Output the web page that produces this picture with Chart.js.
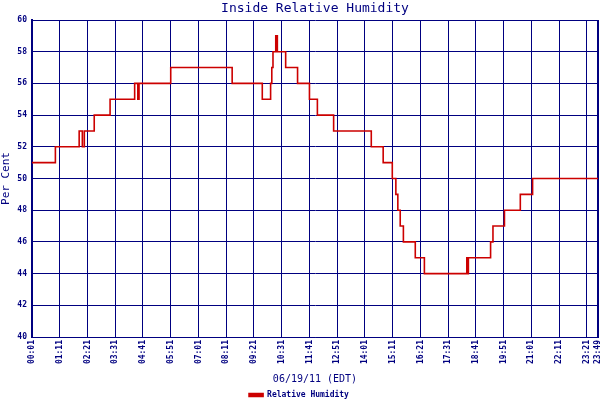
<!DOCTYPE html>
<html>
<head>
<meta charset="utf-8">
<script src="https://cdn.jsdelivr.net/npm/chart.js@4/dist/chart.umd.min.js"></script>
<style>
  html, body { margin: 0; padding: 0; background: #fff; }
  canvas { display: block; }
</style>
</head>
<body>
<canvas id="rhChart" width="600" height="400"></canvas>
<script>
// time at which each reading starts (step changes), and the humidity from then on
const changeTimes = ['00:01', '01:00', '02:00', '02:08', '02:13', '02:38', '03:18', '04:20', '04:28', '04:31',
                     '05:51', '08:26', '09:42', '10:03', '10:06', '10:09', '10:16', '10:20', '10:41', '11:11',
                     '11:41', '12:01', '12:42', '14:17', '14:47', '15:10', '15:19', '15:24', '15:30', '15:38',
                     '16:08', '16:31', '18:18', '18:20', '18:22', '19:18', '19:24', '19:53', '20:33', '21:04',
                     '23:49'];
const humidity = [51, 52, 53, 52, 53, 54, 55, 56, 55, 56,
                  57, 56, 55, 56, 57, 58, 59, 58, 57, 56,
                  55, 54, 53, 52, 51, 50, 49, 48, 47, 46,
                  45, 44, 45, 44, 45, 46, 47, 48, 49, 50,
                  50];
const tickLabels = ['00:01', '01:11', '02:21', '03:31', '04:41', '05:51', '07:01', '08:11', '09:21', '10:31',
                    '11:41', '12:51', '14:01', '15:11', '16:21', '17:31', '18:41', '19:51', '21:01', '22:11',
                    '23:21', '23:49'];

const NAVY = '#000080';
const MONO = '"DejaVu Sans Mono", "Liberation Mono", monospace';

function toMinutes(s) {
    const [h, m] = s.split(':').map(Number);
    return h * 60 + m;
}

const tickValues = tickLabels.map(toMinutes);
const points = changeTimes.map((t, i) => ({ x: toMinutes(t), y: humidity[i] }));

// title centred over the plot area rather than the whole canvas
const titlePlugin = {
    id: 'plotTitle',
    afterDraw(chart) {
        const { ctx, chartArea } = chart;
        ctx.save();
        ctx.fillStyle = NAVY;
        ctx.font = '13px ' + MONO;
        ctx.textAlign = 'center';
        ctx.textBaseline = 'middle';
        ctx.fillText('Inside Relative Humidity', (chartArea.left + chartArea.right) / 2, 9);
        ctx.restore();
    }
};

new Chart(document.getElementById('rhChart').getContext('2d'), {
    type: 'line',
    data: {
        datasets: [{
            label: 'Relative Humidity',
            data: points,
            stepped: 'before',
            borderColor: '#cc0000',
            backgroundColor: '#cc0000',
            borderWidth: 1.6,
            pointRadius: 0,
            fill: false
        }]
    },
    options: {
        responsive: false,
        animation: false,
        layout: { padding: { top: 20, right: 2, left: 0, bottom: -9 } },
        plugins: {
            legend: {
                position: 'bottom',
                labels: {
                    color: NAVY,
                    font: { family: MONO, size: 8, weight: 'bold' },
                    boxWidth: 14,
                    boxHeight: 3,
                    padding: 2
                }
            },
            tooltip: { enabled: false }
        },
        scales: {
            x: {
                type: 'linear',
                min: tickValues[0],
                max: tickValues[tickValues.length - 1],
                afterBuildTicks: scale => {
                    scale.ticks = tickValues.map(v => ({ value: v }));
                },
                afterFit: scale => {
                    scale.height = 52;
                    scale.paddingLeft = 0;
                    scale.paddingRight = 0;
                },
                ticks: {
                    autoSkip: false,
                    minRotation: 90,
                    maxRotation: 90,
                    padding: 3,
                    color: NAVY,
                    font: { family: MONO, size: 8, weight: 'bold' },
                    callback: (value, i) => tickLabels[i]
                },
                grid: {
                    color: NAVY,
                    lineWidth: ctx => (ctx.index === tickValues.length - 1 ? 2 : 1),
                    drawTicks: false
                },
                border: { color: NAVY, width: 1 },
                title: {
                    display: true,
                    text: '06/19/11 (EDT)',
                    color: NAVY,
                    font: { family: MONO, size: 10 },
                    padding: { top: 0, bottom: 4 }
                }
            },
            y: {
                min: 40,
                max: 60,
                afterFit: scale => { scale.width = 32; },
                ticks: {
                    stepSize: 2,
                    padding: 5,
                    color: NAVY,
                    font: { family: MONO, size: 8, weight: 'bold' }
                },
                grid: { color: NAVY, lineWidth: 1, drawTicks: false },
                border: { color: NAVY, width: 2 },
                title: {
                    display: true,
                    text: 'Per Cent',
                    color: NAVY,
                    font: { family: MONO, size: 11 },
                    padding: { top: 0, bottom: 0 }
                }
            }
        }
    },
    plugins: [titlePlugin]
});
</script>
</body>
</html>
